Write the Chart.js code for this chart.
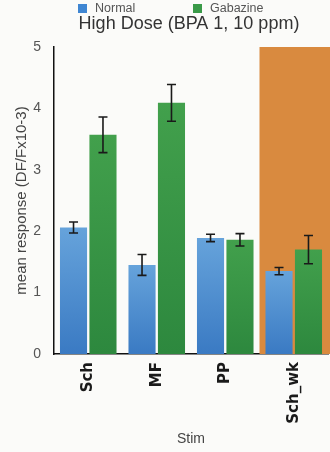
<!DOCTYPE html>
<html>
<head>
<meta charset="utf-8">
<script src="https://cdn.jsdelivr.net/npm/chart.js@4.4.0/dist/chart.umd.min.js"></script>
<style>
  html, body { margin: 0; padding: 0; background: #fbfbf9; }
  #wrap { width: 330px; height: 452px; }
</style>
</head>
<body>
<div id="wrap"><canvas id="c" width="330" height="452"></canvas></div>
<script>
// Stimulus categories and mean responses (DF/F x10-3) with error bar half-widths
const categories = ['Sch', 'MF', 'PP', 'Sch_wk'];
const normalMeans = [2.06, 1.45, 1.89, 1.35];
const normalErrors = [0.09, 0.17, 0.06, 0.06];
const gabazineMeans = [3.57, 4.09, 1.86, 1.70];
const gabazineErrors = [0.29, 0.30, 0.10, 0.23];
const yTicks = [0, 1, 2, 3, 4, 5];
const highlightedCategory = 'Sch_wk';
const titleText = 'High Dose (BPA 1, 10 ppm)';

const FONT = '"Liberation Sans", Arial, sans-serif';

// Vertical gradient spanning each bar from its base to its top
function barGradient(topColor, bottomColor) {
  return (ctx) => {
    const chart = ctx.chart;
    const y = chart.scales.y;
    if (!chart.chartArea || !y || ctx.raw == null) return bottomColor;
    const top = y.getPixelForValue(ctx.raw);
    const base = y.getPixelForValue(0);
    const g = chart.ctx.createLinearGradient(0, top, 0, base);
    g.addColorStop(0, topColor);
    g.addColorStop(1, bottomColor);
    return g;
  };
}

// Orange band behind the highlighted category
const highlightBand = {
  id: 'highlightBand',
  beforeDatasetsDraw(chart) {
    const { ctx, scales: { x, y } } = chart;
    const i = categories.indexOf(highlightedCategory);
    const left = (x.getPixelForValue(i - 1) + x.getPixelForValue(i)) / 2;
    const top = y.getPixelForValue(5);
    const bottom = y.getPixelForValue(0);
    ctx.save();
    ctx.fillStyle = '#d98a3f';
    ctx.fillRect(left, top, chart.width - left, bottom - top);
    ctx.restore();
  }
};

// Error bars drawn on top of each bar
const errorBars = {
  id: 'errorBars',
  afterDatasetsDraw(chart) {
    const { ctx, scales: { y } } = chart;
    const errs = [normalErrors, gabazineErrors];
    ctx.save();
    ctx.strokeStyle = '#1a1a1a';
    ctx.lineWidth = 1.6;
    chart.data.datasets.forEach((ds, di) => {
      const meta = chart.getDatasetMeta(di);
      meta.data.forEach((bar, i) => {
        const v = ds.data[i];
        const e = errs[di][i];
        const yTop = y.getPixelForValue(v + e);
        const yBot = y.getPixelForValue(v - e);
        const cx = bar.x;
        ctx.beginPath();
        ctx.moveTo(cx, yTop); ctx.lineTo(cx, yBot);
        ctx.moveTo(cx - 4.5, yTop); ctx.lineTo(cx + 4.5, yTop);
        ctx.moveTo(cx - 4.5, yBot); ctx.lineTo(cx + 4.5, yBot);
        ctx.stroke();
      });
    });
    ctx.restore();
  }
};

// Legend row and title drawn in the space above the plot
const header = {
  id: 'header',
  afterDraw(chart) {
    const { ctx } = chart;
    ctx.save();
    ctx.textBaseline = 'middle';
    ctx.textAlign = 'left';
    const items = [
      { x: 78, color: '#3f86d2', text: chart.data.datasets[0].label },
      { x: 193, color: '#3a9a48', text: chart.data.datasets[1].label }
    ];
    ctx.font = '12.5px ' + FONT;
    items.forEach(it => {
      ctx.fillStyle = it.color;
      ctx.fillRect(it.x, 4, 9, 9);
      ctx.fillStyle = '#555';
      ctx.fillText(it.text, it.x + 17, 9);
    });
    ctx.font = '18px ' + FONT;
    ctx.fillStyle = '#333';
    ctx.textAlign = 'center';
    ctx.fillText(titleText, 189, 24);
    ctx.restore();
  }
};

new Chart(document.getElementById('c'), {
  type: 'bar',
  data: {
    labels: categories,
    datasets: [
      {
        label: 'Normal',
        data: normalMeans,
        backgroundColor: barGradient('#66a3db', '#3a7ac3'),
        borderWidth: 0,
        categoryPercentage: 0.86,
        barPercentage: 0.92
      },
      {
        label: 'Gabazine',
        data: gabazineMeans,
        backgroundColor: barGradient('#42a04c', '#2d883e'),
        borderWidth: 0,
        categoryPercentage: 0.86,
        barPercentage: 0.92
      }
    ]
  },
  options: {
    responsive: false,
    animation: false,
    layout: { padding: { top: 47, right: 2, bottom: 4, left: 0 } },
    plugins: {
      title: { display: false },
      tooltip: { enabled: false },
      legend: { display: false }
    },
    scales: {
      x: {
        grid: { display: false, drawTicks: false },
        border: { display: true, color: '#111', width: 1.5 },
        ticks: {
          maxRotation: 90,
          minRotation: 90,
          padding: 8,
          color: '#1a1a1a',
          font: { size: 15, weight: 'bold', family: '"DejaVu Sans", sans-serif' }
        },
        title: {
          display: true,
          text: 'Stim',
          color: '#444',
          padding: { top: 8, bottom: 0 },
          font: { size: 14, family: FONT }
        },
        afterFit(scale) { scale.height = 94; }
      },
      y: {
        min: 0,
        max: 5,
        afterBuildTicks(scale) { scale.ticks = yTicks.map(v => ({ value: v })); },
        grid: { display: false, drawTicks: false },
        border: { display: true, color: '#111', width: 1.5 },
        ticks: {
          padding: 13,
          color: '#555',
          font: { size: 14, family: FONT }
        },
        title: {
          display: true,
          text: 'mean response (DF/Fx10-3)',
          color: '#444',
          padding: { top: 13, bottom: 0 },
          font: { size: 15, family: FONT }
        },
        afterFit(scale) { scale.width = 54; }
      }
    }
  },
  plugins: [highlightBand, errorBars, header]
});
</script>
</body>
</html>
